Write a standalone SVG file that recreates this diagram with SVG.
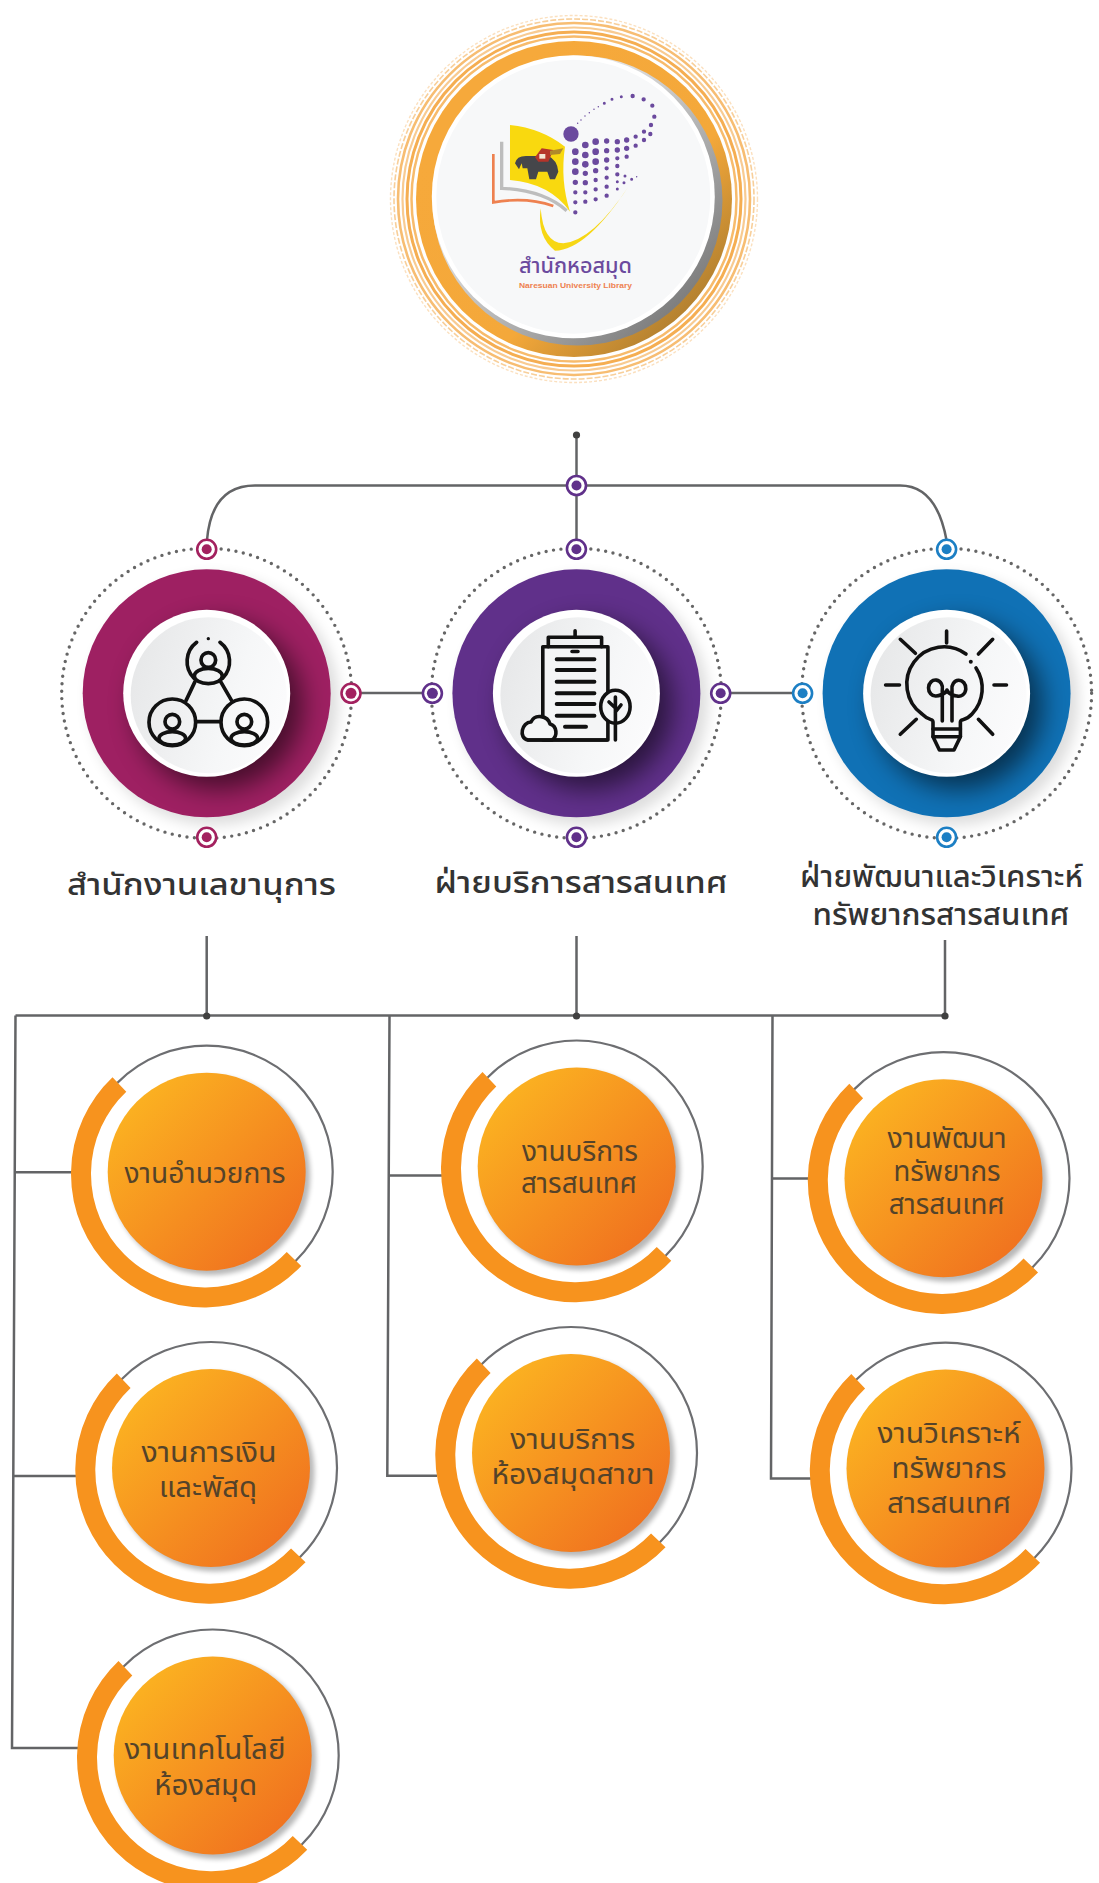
<svg xmlns="http://www.w3.org/2000/svg" width="1099" height="1883" viewBox="0 0 1099 1883">
<style>
text{font-family:"Noto Sans Thai","Noto Sans","Open Sans","Liberation Sans",sans-serif;text-anchor:middle}
.main{font-size:31px;font-weight:500;fill:#333}
.sub{font-size:28px;fill:#54432a}
.c{fill:none;stroke:#636466;stroke-width:2.5}
.dot{fill:#404040}
.dots{fill:none;stroke:#666;stroke-width:3.4;stroke-linecap:round;stroke-dasharray:0 7.5}
.ic{fill:none;stroke:#111;stroke-width:3.6;stroke-linecap:round;stroke-linejoin:round}
.icw{fill:#f4f5f6;stroke:#111;stroke-width:3.6;stroke-linejoin:round}
.mk{fill:#fff;stroke-width:2.6}
</style>
<defs>
<filter id="b3" x="-30%" y="-30%" width="160%" height="160%"><feGaussianBlur stdDeviation="2.5"/></filter>
<filter id="b6" x="-30%" y="-30%" width="160%" height="160%"><feGaussianBlur stdDeviation="7"/></filter>
<filter id="b12" x="-40%" y="-40%" width="180%" height="180%"><feGaussianBlur stdDeviation="13"/></filter>
<clipPath id="ringclip"><circle r="124"/></clipPath>
<linearGradient id="disc" x1="0" y1="0.2" x2="1" y2="0.5"><stop offset="0" stop-color="#e6e7e8"/><stop offset="0.7" stop-color="#f6f7f8"/><stop offset="1" stop-color="#fbfbfc"/></linearGradient>
<linearGradient id="org" x1="0.15" y1="0.15" x2="0.9" y2="0.9"><stop offset="0" stop-color="#fbb021"/><stop offset="1" stop-color="#f0701f"/></linearGradient>
<linearGradient id="band" x1="0.2" y1="0.2" x2="0.9" y2="0.9"><stop offset="0" stop-color="#f6a93b"/><stop offset="0.6" stop-color="#f4a83a"/><stop offset="1" stop-color="#a87a2e"/></linearGradient>
<linearGradient id="crescent" x1="0.3" y1="0.3" x2="0.85" y2="0.85"><stop offset="0" stop-color="#e8e8e8"/><stop offset="1" stop-color="#7f7f7f"/></linearGradient>
<g id="small">
<circle cx="4" cy="4" r="99.5" fill="#000" opacity=".28" filter="url(#b3)"/>
<circle r="99" fill="url(#org)"/>
<circle r="126" fill="none" stroke="#6d6e71" stroke-width="2.2"/>
<path d="M-87.3,-87.3 A123.5,123.5 0 1 0 87.3,87.3" fill="none" stroke="#f7931e" stroke-width="20"/>
</g>
<g id="big">
<circle cx="7" cy="7" r="125" fill="#000" opacity=".13" filter="url(#b6)"/>
</g>
<g id="disc1">
<g clip-path="url(#ringclip)"><circle cx="12" cy="12" r="84" fill="#000" opacity=".55" filter="url(#b12)"/></g>
<circle r="83.5" fill="#fff"/>
<circle cx="2" cy="2" r="78" fill="url(#disc)"/>
</g>
</defs>

<g id="connectors">
<path class="c" d="M576.5,435V549"/>
<path class="c" d="M207,540C210,505 225,485.5 255,485.5H900C925,485.5 940,505 946.5,540"/>
<path class="c" d="M361,693H423"/>
<path class="c" d="M731,693H792"/>
<path class="c" d="M206.7,936V1016M576.5,936V1016M945,940V1016"/>
<path class="c" d="M15.5,1015.5H945"/>
<path class="c" d="M15.5,1015.5L12,1748H79M15,1172.3H72M13.5,1476H77"/>
<path class="c" d="M389.5,1016L387.3,1475.8H437M389.5,1175.4H442"/>
<path class="c" d="M772.5,1016L771,1478.4H811M772.5,1178.4H809"/>
<circle class="dot" cx="576.5" cy="435" r="3.6"/>
<circle class="dot" cx="206.7" cy="1016" r="3.6"/>
<circle class="dot" cx="576.5" cy="1016" r="3.6"/>
<circle class="dot" cx="945" cy="1016" r="3.6"/>
<circle class="mk" cx="576.5" cy="485.5" r="9.5" stroke="#60308a"/><circle cx="576.5" cy="485.5" r="5" fill="#60308a"/>
</g>

<g id="logo">
<circle cx="574" cy="199" r="183.5" fill="none" stroke="#fbe0bf" stroke-width="1.4" stroke-dasharray="3 2"/>
<circle cx="574" cy="199" r="180" fill="none" stroke="#f8cf9a" stroke-width="1.6" stroke-dasharray="6 2"/>
<circle cx="574" cy="199" r="176" fill="none" stroke="#f7bd72" stroke-width="2.6"/>
<circle cx="574" cy="199" r="171.5" fill="none" stroke="#f8cb92" stroke-width="2.2"/>
<circle cx="574" cy="199" r="167" fill="none" stroke="#f5ae52" stroke-width="3"/>
<circle cx="574" cy="199" r="162.5" fill="none" stroke="#f7bb6c" stroke-width="2.5"/>
<circle cx="574" cy="199" r="158" fill="url(#band)"/>
<circle cx="577.5" cy="200.5" r="145" fill="url(#crescent)"/>
<circle cx="573.3" cy="196.7" r="141.5" fill="#fff"/>
<circle cx="573.3" cy="196.7" r="137" fill="#f7f8f9"/>
<g transform="translate(470,80) scale(.3333)">
<path d="M120,135Q215,145 285,200Q270,300 300,395Q240,310 120,300Z" fill="#f9d90f"/>
<path d="M95,185V325Q220,330 290,392" fill="none" stroke="#bdbdbd" stroke-width="10"/>
<path d="M70,222V367Q170,350 250,378" fill="none" stroke="#ee8150" stroke-width="8"/>
<path d="M212,385Q200,470 255,512Q350,510 475,320Q370,480 280,490Q220,490 212,385Z" fill="#f7d714"/>
<path d="M135,250Q140,225 175,228L235,228Q262,240 265,275L255,298H240L232,275H205L198,298H178L172,265H158L155,250L147,268Z" fill="#45464a"/>
<path d="M195,232L215,205L250,210L235,245H205Z" fill="#b5342a"/>
<path d="M208,222h18v14h-18Z" fill="#f3e3d3"/>
<path d="M240,212L280,205L270,222L240,225Z" fill="#b08a2a"/>
<path d="M316,215h0M316,245h0M316,275h0M346,195h0M346,225h0M346,253h0M377,185h0M377,215h0M377,245h0" fill="none" stroke="#6b4a9e" stroke-width="20" stroke-linecap="round"/>
<path d="M316,307h0M346,280h0M346,308h0M377,272h0M410,183h0M410,212h0M410,240h0M442,185h0M442,210h0M470,180h0M470,205h0" fill="none" stroke="#6b4a9e" stroke-width="16" stroke-linecap="round"/>
<path d="M316,337h0M316,367h0M316,397h0M346,337h0M346,365h0M377,300h0M377,328h0M377,358h0M410,265h0M410,293h0M410,320h0M410,347h0M442,235h0M442,258h0M442,283h0M470,230h0M497,170h0M497,197h0M522,155h0M522,180h0M543,135h0M541,162h0M553,110h0M547,77h0M521,58h0M488,48h0" fill="none" stroke="#6b4a9e" stroke-width="13" stroke-linecap="round"/>
<path d="M442,305h0M442,327h0M465,288h0M462,308h0M485,298h0M454,50h0M426,58h0M403,70h0" fill="none" stroke="#6b4a9e" stroke-width="9" stroke-linecap="round"/>
<path d="M500,290h0M385,80h0M372,88h0M358,98h0M345,108h0M333,120h0M323,130h0" fill="none" stroke="#6b4a9e" stroke-width="4.5" stroke-linecap="round"/>
<circle cx="303" cy="162" r="23" fill="#6b4a9e"/>
</g>
<text x="575.5" y="273" font-size="21" font-weight="500" fill="#6b4a9e" textLength="113" lengthAdjust="spacingAndGlyphs">สำนักหอสมุด</text>
<text x="575.5" y="288" font-size="8" font-weight="700" fill="#ee8150" style="font-family:'Liberation Sans',sans-serif" textLength="113" lengthAdjust="spacingAndGlyphs">Naresuan University Library</text>
</g>

<g id="node-secretary" transform="translate(206.7,693.3)">
<use href="#big"/>
<circle r="124" fill="#9e2062"/>
<use href="#disc1"/>
<circle class="dots" r="145"/>
<g stroke="#a3215f"><circle class="mk" cy="-144" r="9.5"/><circle class="mk" cy="144" r="9.5"/><circle class="mk" cx="144.3" r="9.5"/></g>
<g fill="#a3215f"><circle cy="-144" r="5"/><circle cy="144" r="5"/><circle cx="144.3" r="5.5"/></g>
<g transform="translate(-166.7,-163.3) scale(.3333)" fill="none" stroke="#111" stroke-width="11" stroke-linecap="round" stroke-linejoin="round">
<path d="M470,337A72,72 0 0 0 462,445M540,337A72,72 0 0 1 548,445"/>
<circle cx="505" cy="326" r="5" fill="#111" stroke="none"/>
<circle cx="505" cy="390" r="22"/><ellipse cx="505" cy="438" rx="42" ry="23"/>
<circle cx="397" cy="577" r="70"/><circle cx="397" cy="575" r="22"/><ellipse cx="397" cy="625" rx="40" ry="20"/>
<circle cx="613" cy="577" r="70"/><circle cx="613" cy="575" r="22"/><ellipse cx="613" cy="625" rx="40" ry="20"/>
<path d="M465,455L438,512M542,455L575,512M470,575H540"/>
</g>
</g>
<text class="main" x="201.5" y="895" textLength="269" lengthAdjust="spacingAndGlyphs">สำนักงานเลขานุการ</text>

<g id="node-service">
<g transform="translate(576.4,693.3)">
<use href="#big"/>
<circle r="124" fill="#60308a"/>
<use href="#disc1"/>
<circle class="dots" r="145"/>
<g stroke="#60308a"><circle class="mk" cy="-144" r="9.5"/><circle class="mk" cy="144" r="9.5"/><circle class="mk" cx="144.3" r="9.5"/><circle class="mk" cx="-144" r="9.5"/></g>
<g fill="#60308a"><circle cy="-144" r="5"/><circle cy="144" r="5"/><circle cx="144.3" r="5"/><circle cx="-144" r="5.5"/></g>
</g>
<path class="icw" d="M542.8,740V646.7H607.9V740Z"/>
<path class="ic" d="M548.3,646.7V637.3H601.6V646.7M575.1,637.3V630.7M572,651.5H578"/>
<path class="ic" style="stroke-width:4" d="M556.7,659.3H594.4M556.7,670H594.4M556.7,681.7H594.4M556.7,693.3H594.4M556.7,704H594.4M556.7,715.7H594.4M565,726.7H586"/>
<path class="icw" d="M528,740H552C558,736 557,726 550,724C548,716 535,713 531,722C522,722 518,738 528,740Z"/>
<ellipse class="icw" cx="615.4" cy="706.7" rx="14.7" ry="16.5"/>
<path class="ic" d="M615.4,697V740M615.4,708L609,702M615.4,712L621,705M528,740H607"/>
</g>
<text class="main" x="581" y="893" textLength="293" lengthAdjust="spacingAndGlyphs">ฝ่ายบริการสารสนเทศ</text>

<g id="node-develop">
<g transform="translate(946.6,693.3)">
<use href="#big"/>
<circle r="124" fill="#1071b5"/>
<use href="#disc1"/>
<circle class="dots" r="145"/>
<g stroke="#1c7fc4"><circle class="mk" cy="-144" r="9.5"/><circle class="mk" cy="144" r="9.5"/><circle class="mk" cx="-144" r="9.5"/></g>
<g fill="#1c7fc4"><circle cy="-144" r="5"/><circle cy="144" r="5"/><circle cx="-144" r="5"/></g>
</g>
<path class="ic" d="M946.6,631V643M885.6,685H899.5M994,685H1006.5M900.3,639.3L915.4,653.3M992.7,639.3L978.4,654M900.3,734.3L916.3,719.3M992.7,734.3L978.4,719.3"/>
<path class="ic" d="M966,654A37,37 0 0 0 922,714C930,722 933,718 933,722V736.7H960.4V722C960.4,718 965,722 972,714A37,37 0 0 0 976,668"/>
<path class="ic" d="M933,736.7L939.4,750H954L960.4,736.7M933,729H960.4M942.3,721V690M952,721V690M942.3,690A7,8 0 1 0 936,696C938,696 946,694 947,690C948,694 955,696 957,696A7,8 0 1 0 952,690"/>
<circle cx="970.8" cy="661.7" r="2" fill="#111"/>
</g>
<text class="main" x="941.5" y="887" textLength="283" lengthAdjust="spacingAndGlyphs">ฝ่ายพัฒนาและวิเคราะห์</text>
<text class="main" x="941" y="925" textLength="257" lengthAdjust="spacingAndGlyphs">ทรัพยากรสารสนเทศ</text>

<g id="sub-admin"><use href="#small" x="206.7" y="1171.7"/>
<text class="sub" x="205" y="1183" textLength="161" lengthAdjust="spacingAndGlyphs">งานอำนวยการ</text></g>
<g id="sub-finance"><use href="#small" x="211" y="1468"/>
<text class="sub" x="209" y="1462" textLength="135" lengthAdjust="spacingAndGlyphs">งานการเงิน</text>
<text class="sub" x="208" y="1497" textLength="98" lengthAdjust="spacingAndGlyphs">และพัสดุ</text></g>
<g id="sub-tech"><use href="#small" x="212.7" y="1755.5"/>
<text class="sub" x="205" y="1759" textLength="161" lengthAdjust="spacingAndGlyphs">งานเทคโนโลยี</text>
<text class="sub" x="205.7" y="1795" textLength="103" lengthAdjust="spacingAndGlyphs">ห้องสมุด</text></g>
<g id="sub-info"><use href="#small" x="576.7" y="1166.5"/>
<text class="sub" x="580" y="1161" textLength="116" lengthAdjust="spacingAndGlyphs">งานบริการ</text>
<text class="sub" x="579" y="1193" textLength="116" lengthAdjust="spacingAndGlyphs">สารสนเทศ</text></g>
<g id="sub-branch"><use href="#small" x="571" y="1453"/>
<text class="sub" x="572.7" y="1449" textLength="125" lengthAdjust="spacingAndGlyphs">งานบริการ</text>
<text class="sub" x="573" y="1483.6" textLength="163" lengthAdjust="spacingAndGlyphs">ห้องสมุดสาขา</text></g>
<g id="sub-dev"><use href="#small" x="943.5" y="1178.2"/>
<text class="sub" x="947" y="1148" textLength="119" lengthAdjust="spacingAndGlyphs">งานพัฒนา</text>
<text class="sub" x="947" y="1181" textLength="107" lengthAdjust="spacingAndGlyphs">ทรัพยากร</text>
<text class="sub" x="946.7" y="1214" textLength="116" lengthAdjust="spacingAndGlyphs">สารสนเทศ</text></g>
<g id="sub-analysis"><use href="#small" x="945.5" y="1468.6"/>
<text class="sub" x="949" y="1442.5" textLength="143" lengthAdjust="spacingAndGlyphs">งานวิเคราะห์</text>
<text class="sub" x="949" y="1477.6" textLength="115" lengthAdjust="spacingAndGlyphs">ทรัพยากร</text>
<text class="sub" x="949" y="1512.8" textLength="124" lengthAdjust="spacingAndGlyphs">สารสนเทศ</text></g>
</svg>
